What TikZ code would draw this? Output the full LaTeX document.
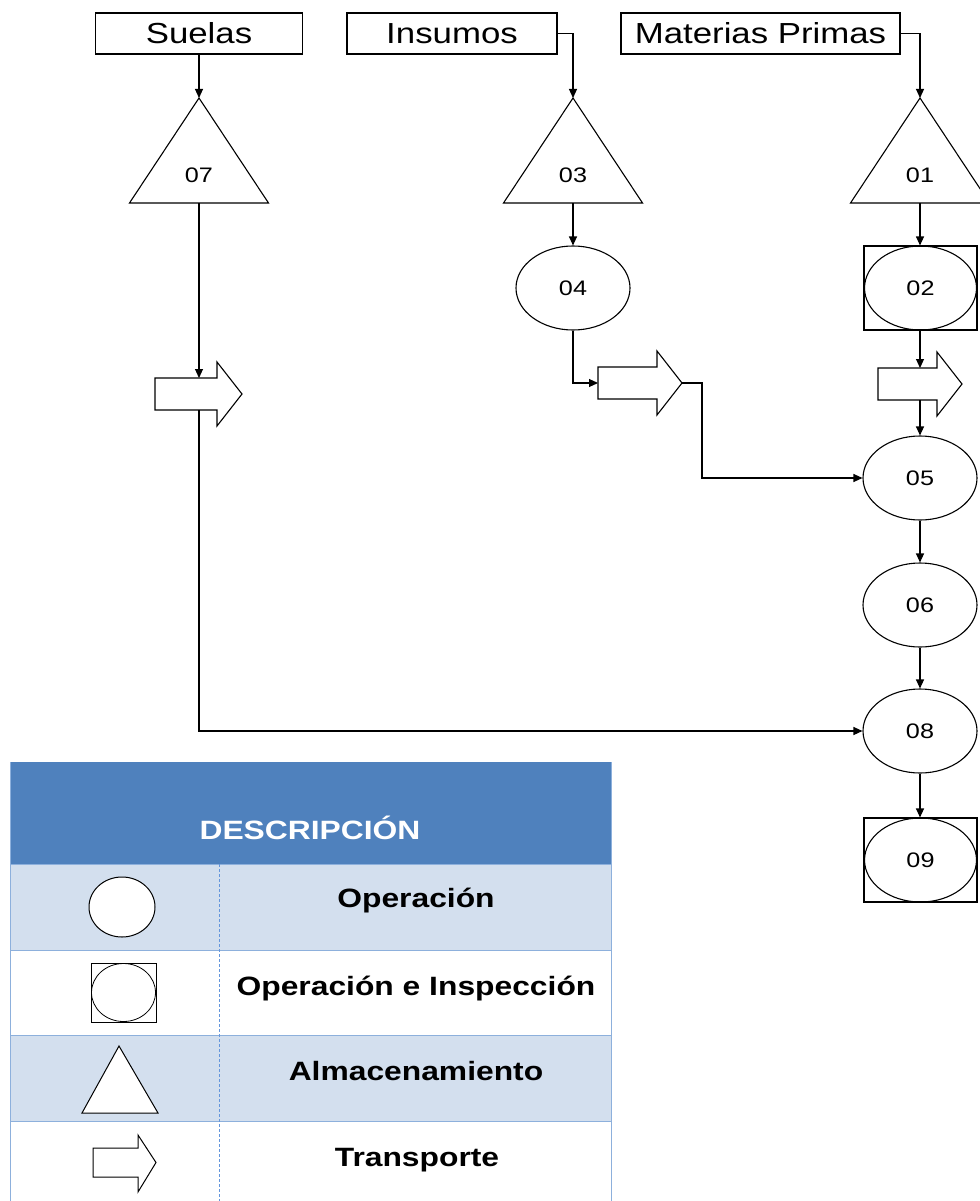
\documentclass[tikz,border=0pt]{standalone}
\usepackage{fontspec}
\newfontfamily\arialx[FakeStretch=1.2]{Liberation Sans}
\usetikzlibrary{arrows.meta, shapes.geometric, calc}
\definecolor{hdrblue}{RGB}{79,129,189}
\definecolor{rowblue}{RGB}{211,223,238}
\definecolor{gridblue}{RGB}{141,176,220}
\definecolor{dashblue}{RGB}{100,150,220}

\begin{document}
\begin{tikzpicture}[x=1pt, y=-1pt,
  shp/.style={draw=black, line width=1.1pt},
  flow/.style={draw=black, line width=1.1pt, -{Triangle[length=9pt, width=8pt]}},
  srcbox/.style={shp, rectangle, minimum height=41pt, inner sep=0pt, font=\arialx\fontsize{29}{30}\selectfont},
  opnode/.style={shp, ellipse, minimum width=114pt, minimum height=84pt, inner sep=0pt, font=\arialx\fontsize{21}{22}\selectfont},
  numtxt/.style={font=\arialx\fontsize{21}{22}\selectfont},
  legtxt/.style={anchor=base, font=\arialx\bfseries\fontsize{26.5}{28}\selectfont}]

  \useasboundingbox (0,0) rectangle (979,1201);

  % entradas
  \node[srcbox, minimum width=207pt] (suelas) at (199,33.5) {Suelas};
  \node[srcbox, minimum width=210pt] (insumos) at (452,33.5) {Insumos};
  \node[srcbox, minimum width=279pt] (materias) at (760.5,33.5) {Materias Primas};

  % almacenamientos
  \foreach \n/\x in {07/199, 03/573, 01/920}{
    \draw[shp, fill=white] (\x-69.5,203) -- (\x,98) -- (\x+69.5,203) -- cycle;
    \coordinate (a\n) at (\x,98);
    \coordinate (b\n) at (\x,203);
    \node[numtxt] (t\n) at (\x,175) {\n};
  }

  % operaciones
  \node[opnode] (o04) at (573,288) {04};
  \node[shp, minimum width=113pt, minimum height=84pt] (sq02) at (920.5,288) {};
  \node[opnode, minimum width=112pt] (o02) at (920.5,288) {02};
  \node[opnode] (o05) at (920,478) {05};
  \node[opnode] (o06) at (920,605) {06};
  \node[opnode] (o08) at (920,731) {08};
  \node[shp, minimum width=113pt, minimum height=84pt] (sq09) at (920.5,860) {};
  \node[opnode, minimum width=112pt] (o09) at (920.5,860) {09};

  % transportes
  \foreach \n/\x/\y/\b in {S/155/394/62, I/598/383/59, M/878/384/59}{
    \draw[shp, fill=white] (\x,\y-16) -- ++(\b,0) -- ++(0,-16) -- (\x+\b+25,\y)
      -- (\x+\b,\y+32) -- ++(0,-16) -- (\x,\y+16) -- cycle;
    \coordinate (tr\n-w) at (\x,\y);
    \coordinate (tr\n-e) at (\x+\b+25,\y);
    \coordinate (tr\n-n) at (\x,\y-16);
    \coordinate (tr\n-s) at (\x,\y+16);
  }

  % conexiones
  \draw[flow] (suelas.south) -- (a07);
  \draw[flow] (insumos.east) -| (a03);
  \draw[flow] (materias.east) -| (a01);
  \draw[flow] (b07) -- (b07 |- trS-n);
  \draw[flow] (b07 |- trS-s) |- (o08.west);
  \draw[flow] (b03) -- (o04.north);
  \draw[flow] (o04.south) |- (trI-w);
  \draw[flow] (trI-e) -- ++(20,0) |- (o05.west);
  \draw[flow] (b01) -- (b01 |- sq02.north);
  \draw[flow] (b01 |- sq02.south) -- (b01 |- trM-n);
  \draw[flow] (b01 |- trM-s) -- (o05.north);
  \draw[flow] (o05) -- (o06);
  \draw[flow] (o06) -- (o08);
  \draw[flow] (o08) -- (o08 |- sq09.north);

  % leyenda
  \fill[hdrblue] (10,762) rectangle (611,864);
  \fill[rowblue] (10,864) rectangle (611,950);
  \fill[rowblue] (10,1035) rectangle (611,1121);
  \foreach \y in {864,950,1035,1121}
    \draw[gridblue, line width=1pt] (10,\y) -- (611,\y);
  \draw[gridblue, line width=1pt] (10,762) -- (10,1201);
  \draw[gridblue, line width=1pt] (611,762) -- (611,1201);
  \draw[dashblue, line width=1pt, dash pattern=on 3pt off 2pt] (219,864) -- (219,1201);
  \node[legtxt, white] (hdr) at (310,839) {DESCRIPCIÓN};

  \node[shp, ellipse, fill=white, minimum width=66pt, minimum height=60pt, line width=1pt] (lgop) at (122,907) {};
  \node[shp, minimum width=65pt, minimum height=59pt, line width=1pt] (lgsq) at (123.5,992.5) {};
  \node[shp, ellipse, minimum width=64pt, minimum height=58pt, line width=0.8pt] (lgsqo) at (123.5,992.5) {};
  \draw[shp, fill=white, line width=1pt] (82,1113) -- (119,1046) -- (158,1113) -- cycle;
  \draw[shp, fill=white, line width=1pt] (93,1148) -- (138,1148) -- (138,1135) -- (156,1162.5)
    -- (138,1192) -- (138,1177) -- (93,1177) -- cycle;

  \node[legtxt] (lg1) at (416,907) {Operación};
  \node[legtxt] (lg2) at (416,995) {Operación e Inspección};
  \node[legtxt] (lg3) at (416,1080) {Almacenamiento};
  \node[legtxt] (lg4) at (417,1166) {Transporte};
\end{tikzpicture}
\end{document}
